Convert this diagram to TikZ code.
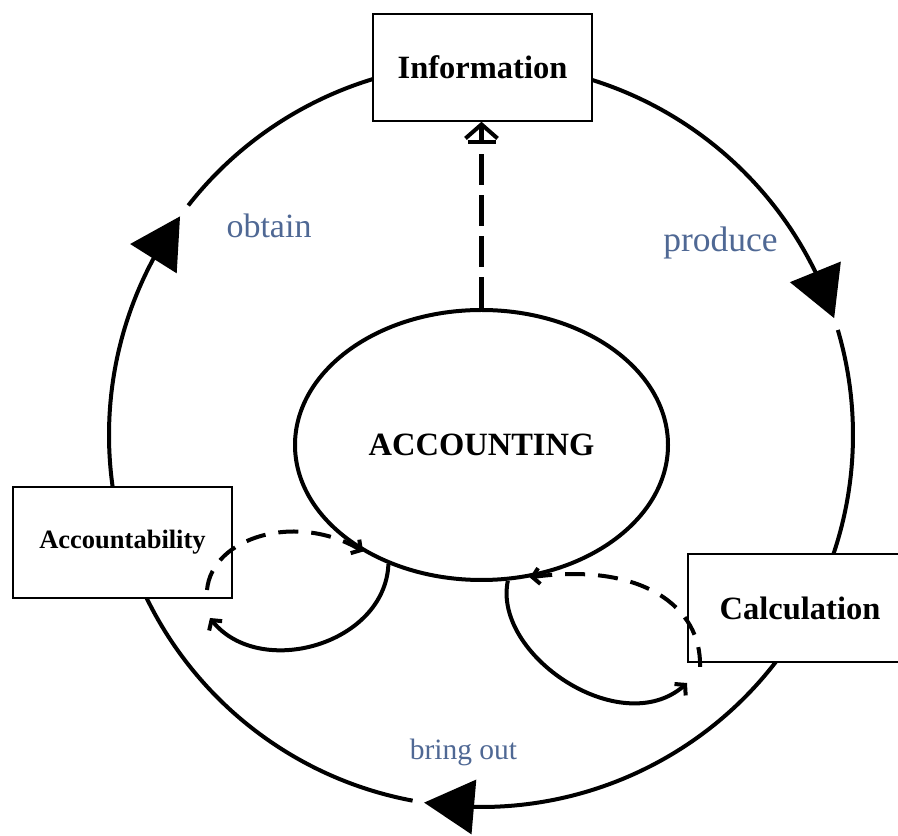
\documentclass[tikz,border=0pt]{standalone}
\usepackage{fontspec}
\setmainfont{Liberation Serif}
\usepackage{tikz}
\usetikzlibrary{arrows.meta,bending,shapes.geometric}
\definecolor{verbblue}{HTML}{4F6894}
\newcommand{\fs}[1]{\fontsize{#1}{#1}\selectfont}

\begin{document}
\begin{tikzpicture}[x=1pt, y=1pt,
  box/.style={draw, line width=1.5pt, fill=white, inner sep=0pt},
  verb/.style={text=verbblue, anchor=base, inner sep=0pt},
  ring/.style={line width=4pt, -{Triangle[length=50pt, width=54pt]}},
  plain/.style={line width=4pt},
  turn/.style={line width=4pt, -{Straight Barb[length=7pt, width=16pt]}},
  turnback/.style={turn, dash pattern=on 20pt off 13pt}]
\useasboundingbox (0,0) rectangle (898,836);
\coordinate (ctr) at (481,401);
% outer cycle, clockwise
\draw[ring] (ctr) ++(90:372) arc[start angle=90, end angle=18.3, radius=372];
\draw[plain] (ctr) ++(16.4:372) arc[start angle=16.4, end angle=-27, radius=372];
\draw[ring] (ctr) ++(-27:372) arc[start angle=-27, end angle=-98.8, radius=372];
\draw[plain] (ctr) ++(-100.6:372) arc[start angle=-100.6, end angle=-163, radius=372];
\draw[ring] (ctr) ++(197:372) arc[start angle=197, end angle=144, radius=372];
\draw[plain] (ctr) ++(141.9:372) arc[start angle=141.9, end angle=90, radius=372];
\node[box, minimum width=219pt, minimum height=107pt, font=\bfseries\fs{32.5}] (info) at (482.5,768.5) {Information};
\node[box, minimum width=224pt, minimum height=108pt, font=\bfseries\fs{32.5}] (calc) at (800,228) {Calculation};
\node[box, minimum width=219pt, minimum height=111pt, font=\bfseries\fs{26.5}] (acct) at (122.5,293.5) {Accountability};
\node[draw, ellipse, line width=4pt, minimum width=373pt, minimum height=270pt, inner sep=0pt,
      font=\bfseries\fs{32.5}] (acc) at (481.5,391) {ACCOUNTING};
\node[verb, font=\fs{34}] (obtain) at (269,598) {obtain};
\node[verb, font=\fs{35.5}] (produce) at (720.5,584) {produce};
\node[verb, font=\fs{29.5}] (bringout) at (463.5,76) {bring out};
% dashed link up to Information
\draw[line width=5pt, dash pattern=on 31pt off 10pt,
      -{Bar[width=28pt, line width=4pt] Straight Barb[length=14pt, width=32pt, line width=4pt]}]
  (acc.north) -- (acc.north |- info.south);
% side loops
\coordinate (acctE) at (210,218);
\coordinate (acctR) at (207,246);
\draw[turn] (acc.232) .. controls (385,190) and (255,155) .. (acctE);
\draw[turnback] (acctR) .. controls (212,300) and (300,325) .. (acc.222);
\coordinate (calcE) at (687,153);
\coordinate (calcR) at (700,169);
\draw[turn] (acc.281) .. controls (492,180) and (625,92) .. (calcE);
\draw[turnback] (calcR) .. controls (702,230) and (640,275) .. (acc.290);
\end{tikzpicture}
\end{document}
